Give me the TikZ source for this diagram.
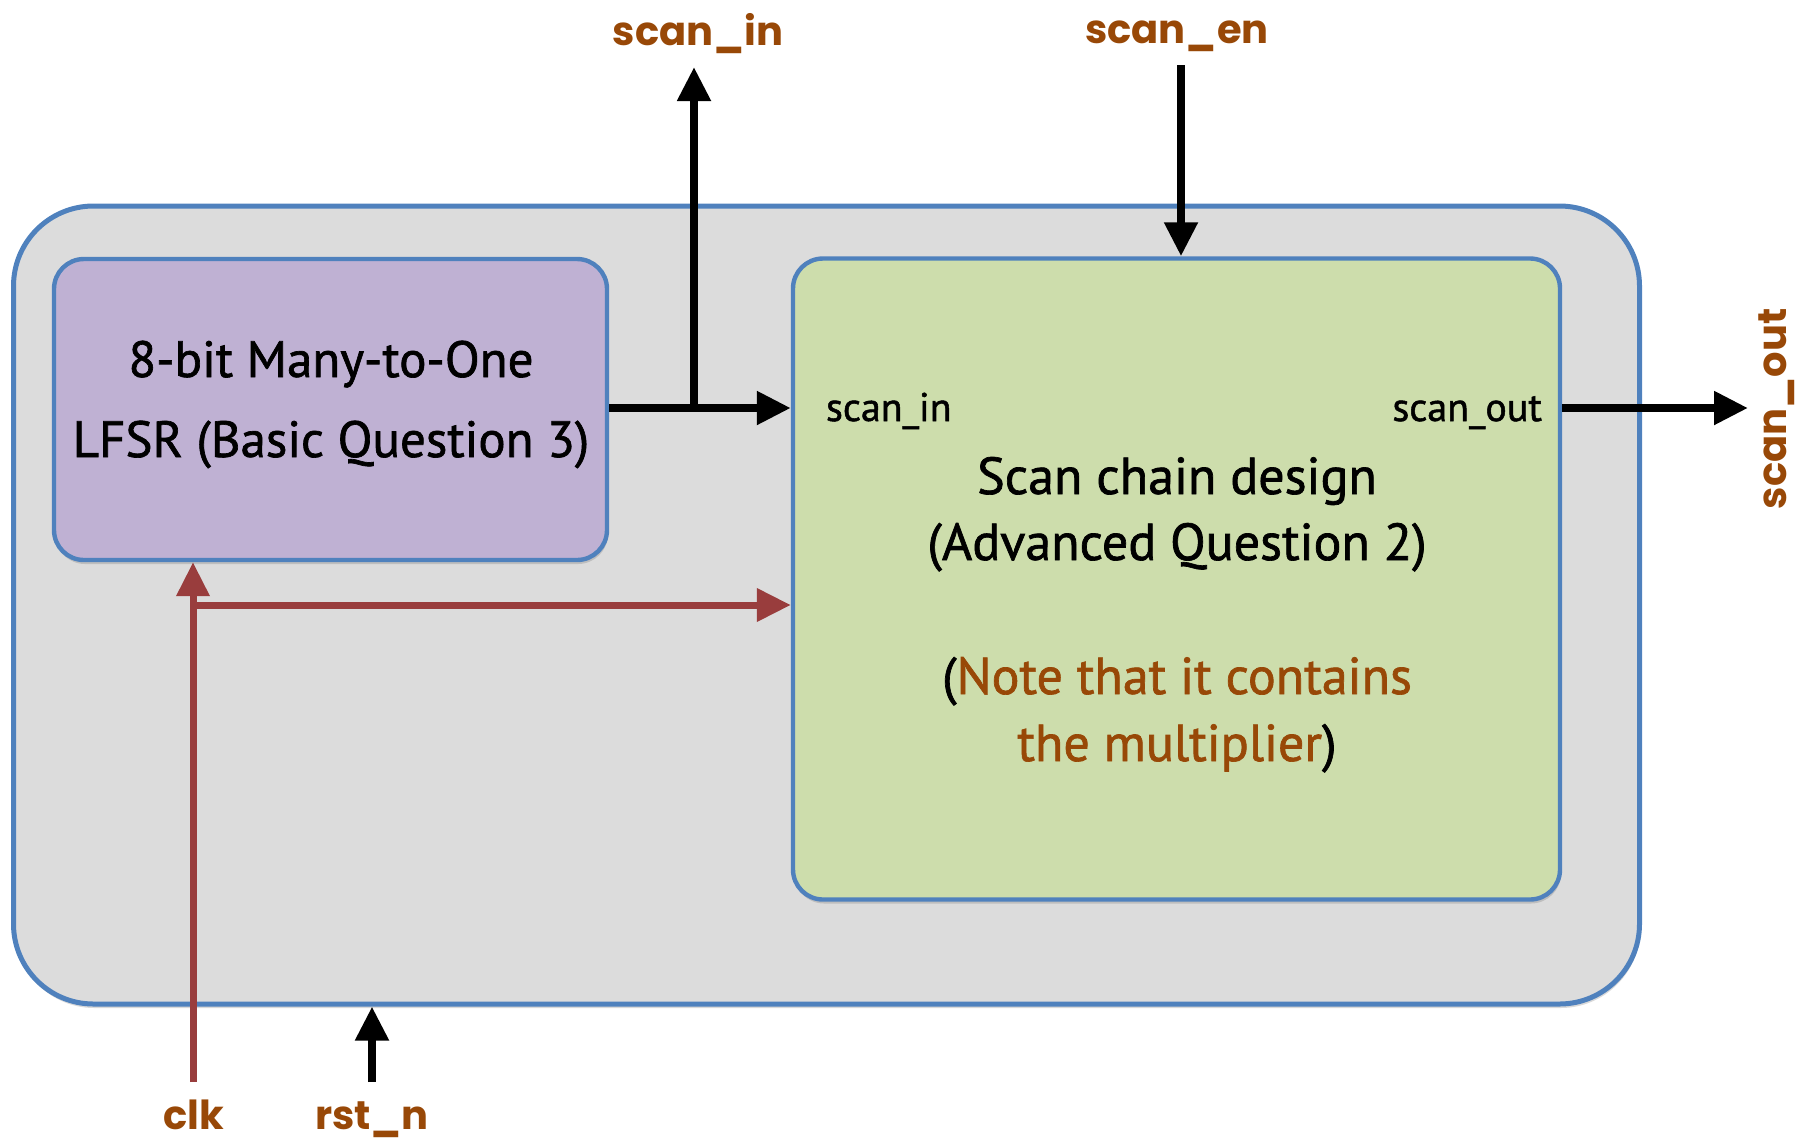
\documentclass[tikz,border=0pt]{standalone}
\usepackage{fontspec}
\setmainfont{PT Sans}
\newfontfamily\boxfont{PT Sans}[FakeBold=1.3]
\newfontfamily\tagfont{Poppins}
\usetikzlibrary{arrows.meta,shadows}
\definecolor{frameblue}{RGB}{79,129,189}
\definecolor{outerfill}{RGB}{220,220,220}
\definecolor{lfsrfill}{RGB}{191,177,211}
\definecolor{scanfill}{RGB}{205,221,172}
\definecolor{clkred}{RGB}{153,61,61}
\definecolor{tagbrown}{RGB}{152,72,7}
\tikzset{
  softshadow/.style={drop shadow={shadow xshift=0.5pt, shadow yshift=-2pt, opacity=0.25, fill=black!60}},
  block/.style={draw=frameblue, line width=2.2pt, rounded corners=15pt, inner sep=0pt, softshadow},
  shell/.style={draw=frameblue, line width=2.5pt, rounded corners=40pt, inner sep=0pt, fill=outerfill, softshadow},
  bigtip/.style={-{Triangle[length=17pt, width=16pt]}},
  wire/.style={line width=4pt, black, bigtip},
  clkwire/.style={line width=3.5pt, clkred, bigtip},
  lfsrtext/.style={anchor=base, font=\boxfont\fontsize{25.5}{30}\selectfont},
  scantext/.style={anchor=base, font=\boxfont\fontsize{26}{30}\selectfont},
  porttext/.style={anchor=base, font=\boxfont\fontsize{20}{24}\selectfont},
  pintag/.style={anchor=base, text=tagbrown, font=\tagfont\bfseries\fontsize{20}{24}\selectfont},
}
\begin{document}
\begin{tikzpicture}[x=0.5pt, y=-0.5pt]
\useasboundingbox (0,0) rectangle (1814,1142);

% enclosing block
\node[shell, minimum width=813pt, minimum height=399pt] (outer) at (826.5,605) {};

% sub-blocks
\node[block, fill=lfsrfill, minimum width=276.5pt, minimum height=150.5pt] (lfsr) at (330.5,409.5) {};
\node[block, fill=scanfill, minimum width=383.5pt, minimum height=320.5pt] (scan) at (1176.5,579) {};

% block texts
\node[lfsrtext] (lfsrA) at (331,377) {8-bit Many-to-One};
\node[lfsrtext] (lfsrB) at (331,457) {LFSR (Basic Question 3)};
\node[scantext] (scanA) at (1177,494) {Scan chain design};
\node[scantext] (scanB) at (1177,560) {(Advanced Question 2)};
\node[scantext] (noteA) at (1177,694) {(\textcolor{tagbrown}{Note that it contains}};
\node[scantext] (noteB) at (1177,761) {\textcolor{tagbrown}{the multiplier})};

% port names inside the scan chain block
\node[porttext, anchor=base west] (pin) at (819,421) {scan\_in};
\node[porttext, anchor=base east] (pout) at (1549,421) {scan\_out};

% external pin names
\node[pintag] (tagin) at (698,45) {scan\_in};
\node[pintag] (tagen) at (1177,43) {scan\_en};
\node[pintag, anchor=center, rotate=90] (tagout) at (1777,409) {scan\_out};
\node[pintag] (tagclk) at (194,1129) {clk};
\node[pintag] (tagrst) at (372,1129) {rst\_n};

% connection points
\coordinate (tap) at (694,408);
\coordinate (inend) at (694,67);
\coordinate (enstart) at (1181,65);
\coordinate (outend) at (1748,408);
\coordinate (clkstart) at (193,1082);
\coordinate (clkbr) at (193,605);
\coordinate (rststart) at (372,1082);

% LFSR output feeding scan_in, tapped out as a pin
\draw[wire] (lfsr.east |- tap) -- (scan.west |- tap);
\draw[wire] (tap) -- (inend);
\draw[wire] (enstart) -- (enstart |- scan.north);
\draw[wire] (scan.east |- tap) -- (outend);

% clock distribution
\draw[clkwire] (clkstart) -- (clkstart |- lfsr.south);
\draw[clkwire] (clkbr) -- (scan.west |- clkbr);

% reset input
\draw[wire] (rststart) -- (rststart |- outer.south);
\end{tikzpicture}
\end{document}
